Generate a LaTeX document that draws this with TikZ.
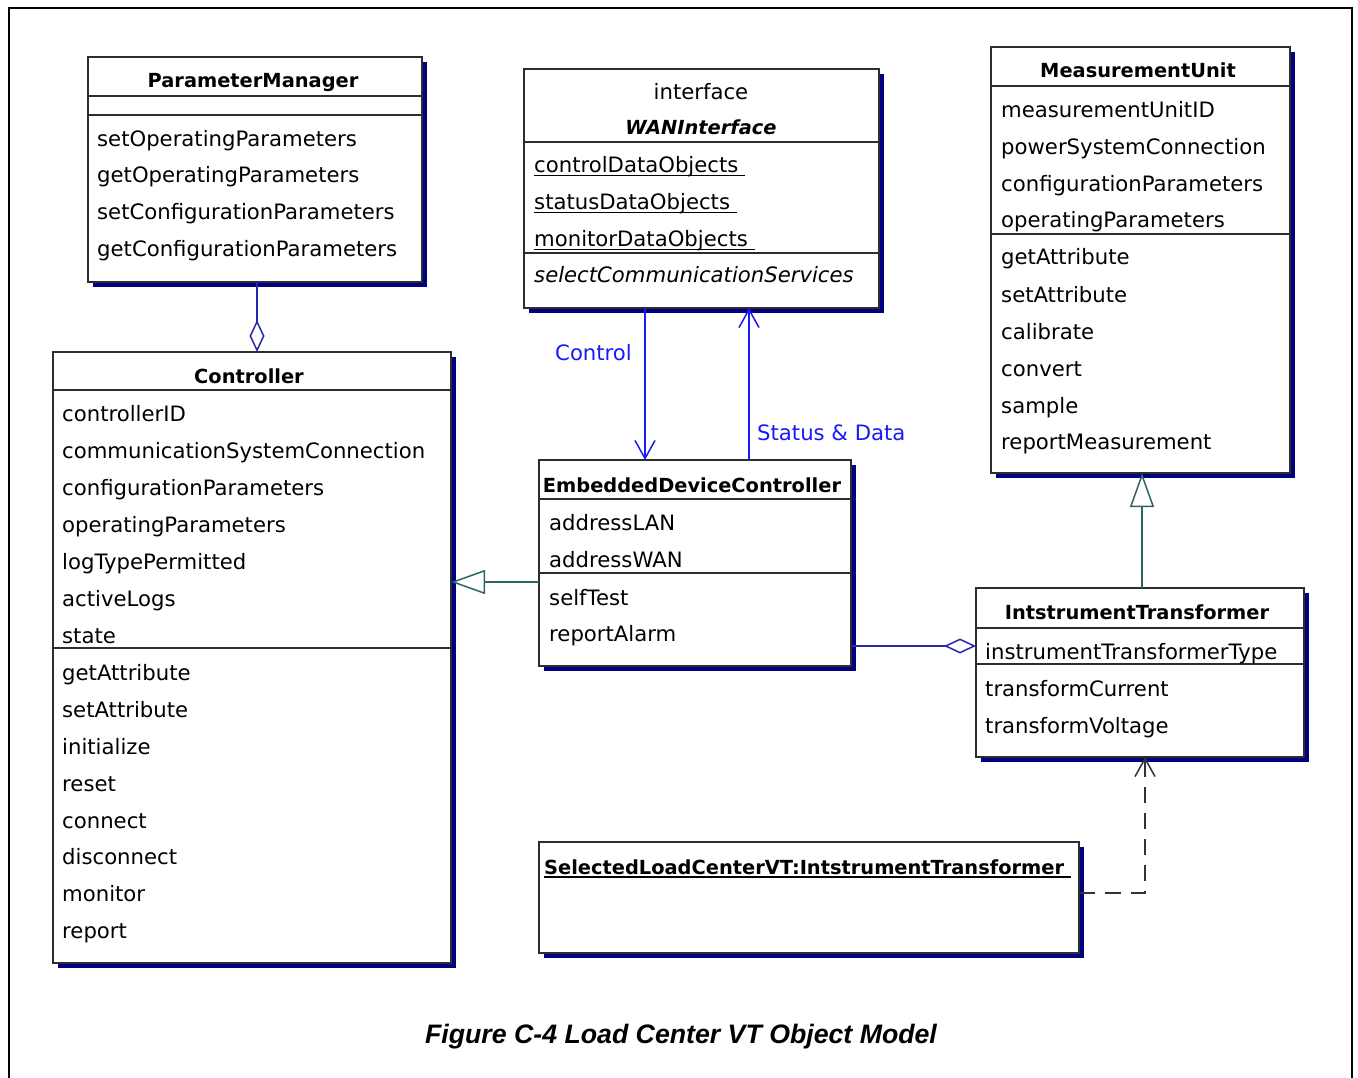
\documentclass[tikz,border=0pt]{standalone}
\usepackage{fontspec}
\setmainfont{DejaVu Sans}
\newfontfamily\capfont{Liberation Sans}
\usetikzlibrary{arrows.meta,shadows,calc}

\definecolor{shade}{RGB}{0,0,128}
\definecolor{edge}{RGB}{45,45,45}
\definecolor{aggc}{RGB}{40,40,170}
\definecolor{msgc}{RGB}{25,25,255}
\definecolor{genc}{RGB}{45,100,100}
\definecolor{depc}{RGB}{50,50,50}

% underline drawn close under the baseline, independent of descenders
\newcommand\ulined[1]{\setbox0\hbox{#1}\rlap{\rule[-3.5pt]{\wd0}{1.4pt}}\box0}

\begin{document}
\begin{tikzpicture}[x=1pt,y=-1pt,
  classbox/.style={draw=edge, line width=1.8pt, fill=white, anchor=north west,
    inner sep=0pt, outer sep=0pt,
    drop shadow={shadow xshift=5pt, shadow yshift=-5pt, fill=shade, opacity=1}},
  sepline/.style={draw=edge, line width=1.8pt},
  member/.style={anchor=base west, inner sep=0pt, font=\fontsize{21.2}{24}\selectfont},
  cname/.style={anchor=base, inner sep=0pt, font=\fontsize{19.4}{24}\selectfont\bfseries},
  msglabel/.style={anchor=base west, inner sep=0pt, text=msgc, font=\fontsize{21.2}{24}\selectfont},
  agg/.style={draw=aggc, line width=1.5pt, -{Diamond[open, length=32pt, width=15pt]}},
  msg/.style={draw=msgc, line width=1.5pt, -{Straight Barb[length=18pt, width=20pt]}},
  gen/.style={draw=genc, line width=1.5pt, -{Triangle[open, length=34pt, width=24pt]}},
  dep/.style={draw=depc, line width=1.5pt, dash pattern=on 16pt off 10pt,
    -{Straight Barb[length=18pt, width=20pt]}}
]
\useasboundingbox (0,0) rectangle (1358,1078);

% page frame
\draw[line width=2.5pt] (9,1100) -- (9,8) -- (1352,8) -- (1352,1100);

% ---------- ParameterManager ----------
\node[classbox, minimum width=334pt, minimum height=225pt] (pm) at (88,57) {};
\draw[sepline] ($(pm.north west)+(0,39)$) -- ($(pm.north east)+(0,39)$);
\draw[sepline] ($(pm.north west)+(0,58)$) -- ($(pm.north east)+(0,58)$);
\node[cname] (pm-t) at (253,88) {ParameterManager};
\node[member] (pm-m1) at (97,146.5) {setOperatingParameters};
\node[member] (pm-m2) at (97,183) {getOperatingParameters};
\node[member] (pm-m3) at (97,220) {setConfigurationParameters};
\node[member] (pm-m4) at (97,257) {getConfigurationParameters};

% ---------- WANInterface ----------
\node[classbox, minimum width=355pt, minimum height=239pt] (wan) at (524,69) {};
\draw[sepline] ($(wan.north west)+(0,73)$) -- ($(wan.north east)+(0,73)$);
\draw[sepline] ($(wan.north west)+(0,184)$) -- ($(wan.north east)+(0,184)$);
\node[anchor=base, inner sep=0pt, font=\fontsize{21.2}{24}\selectfont] (wan-s) at (701,100) {interface};
\node[cname, font=\fontsize{19.4}{24}\selectfont\bfseries\itshape] (wan-t) at (701,135) {WANInterface};
\node[member] (wan-a1) at (534,173) {\ulined{controlDataObjects\ }};
\node[member] (wan-a2) at (534,210) {\ulined{statusDataObjects\ }};
\node[member] (wan-a3) at (534,247) {\ulined{monitorDataObjects\ }};
\node[member, font=\fontsize{21.2}{24}\selectfont\itshape] (wan-m1) at (534,283) {selectCommunicationServices};

% ---------- MeasurementUnit ----------
\node[classbox, minimum width=299pt, minimum height=426pt] (mu) at (991,47) {};
\draw[sepline] ($(mu.north west)+(0,39)$) -- ($(mu.north east)+(0,39)$);
\draw[sepline] ($(mu.north west)+(0,187)$) -- ($(mu.north east)+(0,187)$);
\node[cname] (mu-t) at (1138,78) {MeasurementUnit};
\node[member] (mu-a1) at (1001,118) {measurementUnitID};
\node[member] (mu-a2) at (1001,155) {powerSystemConnection};
\node[member] (mu-a3) at (1001,192) {configurationParameters};
\node[member] (mu-a4) at (1001,228) {operatingParameters};
\node[member] (mu-m1) at (1001,265) {getAttribute};
\node[member] (mu-m2) at (1001,302) {setAttribute};
\node[member] (mu-m3) at (1001,339) {calibrate};
\node[member] (mu-m4) at (1001,376) {convert};
\node[member] (mu-m5) at (1001,413) {sample};
\node[member] (mu-m6) at (1001,449) {reportMeasurement};

% ---------- Controller ----------
\node[classbox, minimum width=398pt, minimum height=611pt] (ctrl) at (53,352) {};
\draw[sepline] ($(ctrl.north west)+(0,38)$) -- ($(ctrl.north east)+(0,38)$);
\draw[sepline] ($(ctrl.north west)+(0,296)$) -- ($(ctrl.north east)+(0,296)$);
\node[cname] (ctrl-t) at (249,383) {Controller};
\node[member] (ctrl-a1) at (62,421.5) {controllerID};
\node[member] (ctrl-a2) at (62,458.5) {communicationSystemConnection};
\node[member] (ctrl-a3) at (62,495.5) {configurationParameters};
\node[member] (ctrl-a4) at (62,532) {operatingParameters};
\node[member] (ctrl-a5) at (62,569) {logTypePermitted};
\node[member] (ctrl-a6) at (62,606) {activeLogs};
\node[member] (ctrl-a7) at (62,643) {state};
\node[member] (ctrl-m1) at (62,680) {getAttribute};
\node[member] (ctrl-m2) at (62,717) {setAttribute};
\node[member] (ctrl-m3) at (62,754) {initialize};
\node[member] (ctrl-m4) at (62,791) {reset};
\node[member] (ctrl-m5) at (62,828) {connect};
\node[member] (ctrl-m6) at (62,864) {disconnect};
\node[member] (ctrl-m7) at (62,901) {monitor};
\node[member] (ctrl-m8) at (62,938) {report};

% ---------- EmbeddedDeviceController ----------
\node[classbox, minimum width=312pt, minimum height=206pt] (edc) at (539,460) {};
\draw[sepline] ($(edc.north west)+(0,39)$) -- ($(edc.north east)+(0,39)$);
\draw[sepline] ($(edc.north west)+(0,113)$) -- ($(edc.north east)+(0,113)$);
\node[cname] (edc-t) at (692,492) {EmbeddedDeviceController};
\node[member] (edc-a1) at (549,530) {addressLAN};
\node[member] (edc-a2) at (549,567) {addressWAN};
\node[member] (edc-m1) at (549,605) {selfTest};
\node[member] (edc-m2) at (549,641) {reportAlarm};

% ---------- IntstrumentTransformer ----------
\node[classbox, minimum width=328pt, minimum height=169pt] (it) at (976,588) {};
\draw[sepline] ($(it.north west)+(0,40)$) -- ($(it.north east)+(0,40)$);
\draw[sepline] ($(it.north west)+(0,76)$) -- ($(it.north east)+(0,76)$);
\node[cname] (it-t) at (1137,619) {IntstrumentTransformer};
\node[member] (it-a1) at (985,659) {instrumentTransformerType};
\node[member] (it-m1) at (985,696) {transformCurrent};
\node[member] (it-m2) at (985,733) {transformVoltage};

% ---------- SelectedLoadCenterVT object ----------
\node[classbox, minimum width=540pt, minimum height=111pt] (slc) at (539,842) {};
\node[cname, anchor=base west] (slc-t) at (544,874) {\ulined{SelectedLoadCenterVT:IntstrumentTransformer\ }};

% ---------- connector routing points ----------
\coordinate (pmx) at (257,0);
\coordinate (ctlx) at (645,0);
\coordinate (stsx) at (749,0);
\coordinate (geny) at (0,582);
\coordinate (aggy) at (0,646);
\coordinate (mux) at (1142,0);
\coordinate (depc) at (1145,893);

% ---------- connectors ----------
\draw[agg] (pm.south -| pmx) -- (ctrl.north -| pmx);
\draw[msg] (wan.south -| ctlx) -- (edc.north -| ctlx);
\draw[msg] (edc.north -| stsx) -- (wan.south -| stsx);
\draw[gen] (edc.west |- geny) -- (ctrl.east |- geny);
\draw[agg] (edc.east |- aggy) -- (it.west |- aggy);
\draw[gen] (it.north -| mux) -- (mu.south -| mux);
\draw[dep] (slc.east |- depc) -| (it.south -| depc);

\node[msglabel] (lbl-ctl) at (555,360) {Control};
\node[msglabel] (lbl-sts) at (757,440) {Status \& Data};

% ---------- caption ----------
\node[anchor=base, inner sep=0pt, font=\capfont\fontsize{26.7}{30}\selectfont\bfseries\itshape]
  (cap) at (681,1043) {Figure C-4 Load Center VT Object Model};
\end{tikzpicture}
\end{document}
